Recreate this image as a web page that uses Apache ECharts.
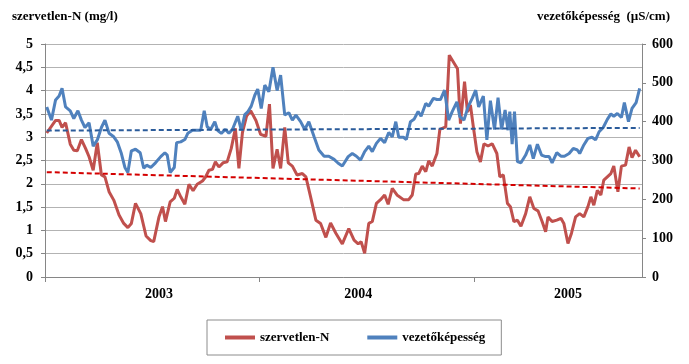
<!DOCTYPE html>
<html><head><meta charset="utf-8">
<script src="https://cdn.jsdelivr.net/npm/echarts@6/dist/echarts.min.js"></script>
<style>html,body{margin:0;padding:0;background:#fff}#c{width:689px;height:364px}</style>
</head><body><div id="c"></div>
<script>
// sample day (days since 2003-01-01) and values
const nDays = [3,18,24,29,35,43,49,55,62,69,75,82,89,96,102,109,117,126,134,141,147,154,163,172,180,185,194,200,205,213,220,225,231,238,245,252,259,268,273,279,285,290,296,303,310,317,324,330,336,343,350,359,367,376,382,388,395,401,408,414,421,429,438,444,452,461,469,478,486,495,506,517,526,533,538,544,551,557,564,571,578,584,591,599,610,619,625,631,636,642,648,653,659,667,672,682,688,702,707,714,719,724,729,735,741,747,754,761,769,774,780,787,792,798,804,810,818,825,832,839,846,852,856,863,871,878,883,890,896,903,910,917,924,929,934,940,946,951,957,963,968,975,981,988,994,999,1005,1012];
const nValues = [3.09,3.36,3.36,3.21,3.31,2.85,2.72,2.71,2.95,2.76,2.58,2.29,2.88,2.19,2.15,1.83,1.65,1.33,1.15,1.06,1.15,1.58,1.36,0.88,0.78,0.76,1.29,1.51,1.19,1.61,1.69,1.88,1.72,1.56,1.99,1.85,1.99,2.06,2.14,2.29,2.31,2.47,2.36,2.45,2.47,2.76,3.19,2.33,3.1,3.45,3.57,3.36,3.06,3.02,3.71,2.33,2.74,2.33,3.21,2.45,2.38,2.19,2.22,2.15,1.72,1.22,1.15,0.85,1.16,0.94,0.71,1.04,0.79,0.71,0.76,0.51,1.15,1.19,1.58,1.66,1.76,1.56,1.9,1.76,1.66,1.66,1.76,2.21,2.22,2.38,2.26,2.49,2.38,2.65,3.17,3.22,4.76,4.47,3.29,4.19,3.54,3.69,3.22,2.69,2.47,2.86,2.81,2.86,2.65,2.15,2.19,1.58,1.51,1.19,1.22,1.09,1.36,1.72,1.47,1.42,1.19,0.97,1.29,1.19,1.22,1.26,1.15,0.72,0.94,1.29,1.36,1.29,1.51,1.72,1.54,1.86,1.76,2.08,2.15,2.22,2.38,1.83,2.38,2.4,2.79,2.56,2.72,2.58];
const cDays = [3,11,18,24,29,35,43,49,56,62,68,75,82,89,96,102,109,117,123,130,136,141,147,154,162,168,173,180,188,197,204,208,213,220,224,231,238,243,251,259,265,271,276,282,289,294,300,307,313,319,328,334,340,345,351,357,362,368,374,381,388,395,401,408,415,421,427,435,442,449,458,466,475,483,492,499,506,516,523,530,537,544,551,557,564,571,578,585,591,597,602,610,615,622,628,635,640,648,653,661,667,673,680,687,693,701,706,713,720,727,733,738,746,752,758,765,771,777,783,788,791,795,799,804,810,818,825,831,838,845,852,858,863,871,878,884,892,899,906,910,917,924,931,937,943,950,957,963,968,974,981,986,993,999,1006,1012];
const cValues = [438,404,456,466,486,438,428,408,428,404,385,397,337,353,385,404,370,361,348,318,282,269,325,329,320,280,288,282,294,310,320,314,269,282,346,348,354,370,378,378,378,428,387,380,400,377,370,380,370,380,414,378,418,425,440,468,484,434,494,477,540,480,520,417,423,404,417,400,380,400,361,327,311,311,303,293,286,310,318,311,301,323,337,323,344,357,346,372,361,400,360,360,354,400,406,426,414,447,440,460,457,457,481,404,426,451,413,404,438,460,481,438,466,353,454,380,462,380,430,378,426,342,426,297,294,314,340,305,342,314,310,310,294,320,311,311,318,331,327,318,340,357,360,353,374,385,406,420,414,421,411,449,400,434,449,486];
const trendDays = [3, 1012];
const nTrend = [2.25, 1.90];
const cTrend = [377, 384];
const yearTicks = [0, 365, 731];
const yearLabels = ['2003', '2004', '2005'];
const yearLabelDays = [194, 533, 890];
const leftTitle = 'szervetlen-N (mg/l)';
const rightTitle = 'vezetőképesség  (µS/cm)';
const seriesNames = ['szervetlen-N', 'vezetőképesség'];

const pair = (xs, ys) => xs.map((x, i) => [x, ys[i]]);
const FONT = 'Liberation Serif';
const txt = {fontFamily: FONT, fontWeight: 'bold', fontSize: 14, color: '#000'};

const chart = echarts.init(document.getElementById('c'), null, {renderer: 'canvas'});
chart.setOption({
  animation: false,
  backgroundColor: '#fff',
  title: [
    {text: leftTitle, left: 12, top: 10, padding: 0, textStyle: {fontFamily: FONT, fontWeight: 'bold', fontSize: 13, color: '#000'}},
    {text: rightTitle, right: 19, top: 10, padding: 0, textStyle: {fontFamily: FONT, fontWeight: 'bold', fontSize: 13, color: '#000'}}
  ],
  grid: {left: 45, right: 47, top: 44, bottom: 87, containLabel: false},
  legend: {
    data: seriesNames, left: 207, top: 320, padding: [11, 16, 11, 18], itemGap: 38,
    itemWidth: 30, itemHeight: 4, icon: 'rect', borderColor: '#8c8c8c', borderWidth: 1,
    textStyle: {fontFamily: FONT, fontWeight: 'bold', fontSize: 13, color: '#000'}
  },
  xAxis: {
    type: 'value', min: 0, max: 1016,
    axisLine: {show: true, lineStyle: {color: '#868686', width: 1}},
    axisTick: {show: true, customValues: yearTicks, length: 5, lineStyle: {color: '#868686'}},
    axisLabel: {customValues: yearLabelDays, margin: 10, ...txt,
      formatter: v => yearLabels[yearLabelDays.indexOf(v)] || ''},
    splitLine: {show: false}
  },
  yAxis: [
    {type: 'value', min: 0, max: 5, interval: 0.5, position: 'left',
      axisLine: {show: true, lineStyle: {color: '#868686'}},
      axisTick: {show: true, length: 4, lineStyle: {color: '#868686'}},
      axisLabel: {margin: 12, ...txt, formatter: v => String(v).replace('.', ',')},
      splitLine: {show: true, lineStyle: {color: '#b3b3b3', width: 1}}},
    {type: 'value', min: 0, max: 600, interval: 100, position: 'right',
      axisLine: {show: true, lineStyle: {color: '#868686'}},
      axisTick: {show: true, length: 4, lineStyle: {color: '#868686'}},
      axisLabel: {margin: 10, ...txt},
      splitLine: {show: false}}
  ],
  series: [
    {name: seriesNames[0], type: 'line', yAxisIndex: 0, data: pair(nDays, nValues), showSymbol: false,
      color: '#c0504d', lineStyle: {width: 3, color: '#c0504d'}, z: 2},
    {name: seriesNames[1], type: 'line', yAxisIndex: 1, data: pair(cDays, cValues), showSymbol: false,
      color: '#4f81bd', lineStyle: {width: 3, color: '#4f81bd'}, z: 3},
    {name: 'trendN', type: 'line', yAxisIndex: 0, data: pair(trendDays, nTrend), showSymbol: false,
      lineStyle: {width: 2, color: '#d40000', type: [5, 3]}, z: 4, silent: true},
    {name: 'trendC', type: 'line', yAxisIndex: 1, data: pair(trendDays, cTrend), showSymbol: false,
      lineStyle: {width: 2, color: '#2a5b9a', type: [5, 3]}, z: 4, silent: true}
  ]
});
</script></body></html>
